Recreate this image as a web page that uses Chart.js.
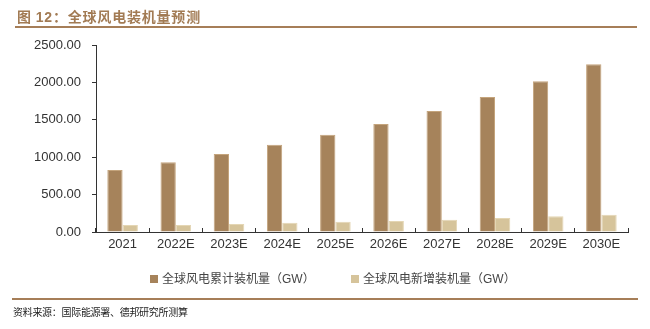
<!DOCTYPE html>
<html>
<head>
<meta charset="utf-8">
<script src="https://cdn.jsdelivr.net/npm/chart.js@4"></script>
<style>
  html, body { margin: 0; padding: 0; background: #fff; }
  #wrap { position: relative; width: 650px; height: 329px; overflow: hidden; }
  #c { position: absolute; left: 0; top: 0; }
  .title { position: absolute; left: 17px; top: 6px; font-family: "Noto Sans CJK SC", sans-serif; font-weight: bold; font-size: 14px; color: #a27b54; letter-spacing: 0.8px; white-space: nowrap; }
  .title .num { font-family: "Liberation Sans", Arial, sans-serif; }
  .rule { position: absolute; height: 2px; background: #a67e58; }
  .src { position: absolute; left: 13px; top: 304px; font-family: "Noto Sans CJK SC", sans-serif; font-size: 10px; color: #222; white-space: nowrap; letter-spacing: -0.3px; }
  .legend { position: absolute; top: 269px; font-family: "Noto Sans CJK SC", sans-serif; font-size: 12px; color: #444; white-space: nowrap; }
  .legend i { display: inline-block; width: 8px; height: 8px; margin-right: 4px; vertical-align: 0px; }
  .legend .gw { font-family: "Liberation Sans", Arial, sans-serif; }
</style>
</head>
<body>
<div id="wrap">
  <canvas id="c" width="650" height="329"></canvas>
  <div class="title">图 <span class="num">12</span>：全球风电装机量预测</div>
  <div class="rule" style="left:15px; top:26px; width:622px;"></div>
  <div class="rule" style="left:12px; top:298px; width:626px;"></div>
  <div class="src">资料来源：国际能源署、德邦研究所测算</div>
  <div id="leg"></div>
</div>
<script>
const categories = ["2021", "2022E", "2023E", "2024E", "2025E", "2026E", "2027E", "2028E", "2029E", "2030E"];
const cumulative = [830, 932, 1043, 1167, 1301, 1444, 1618, 1805, 2015, 2242];
const newAdded = [93, 93, 107, 124, 138, 147, 164, 187, 210, 231];
const seriesNames = ["全球风电累计装机量（GW）", "全球风电新增装机量（GW）"];
const seriesColors = ["#a6835b", "#d6c49b"];
const seriesBorders = ["#c4a47c", "#e4d6b4"];
const yTicks = [0, 500, 1000, 1500, 2000, 2500];

// legend (HTML), built from series arrays
const legPos = [150, 351];
const leg = document.getElementById('leg');
seriesNames.forEach((n, i) => {
  const d = document.createElement('div');
  d.className = 'legend';
  d.style.left = legPos[i] + 'px';
  const label = n.replace('GW', '<span class="gw">GW</span>');
  d.innerHTML = '<i style="background:' + seriesColors[i] + '"></i>' + label;
  leg.appendChild(d);
});

new Chart(document.getElementById('c'), {
  type: 'bar',
  data: {
    labels: categories,
    datasets: [
      { label: seriesNames[0], data: cumulative, backgroundColor: seriesColors[0], borderColor: seriesBorders[0], borderWidth: 1, barPercentage: 1, categoryPercentage: 0.575 },
      { label: seriesNames[1], data: newAdded, backgroundColor: seriesColors[1], borderColor: seriesBorders[1], borderWidth: 1, barPercentage: 1, categoryPercentage: 0.575 }
    ]
  },
  options: {
    responsive: false,
    animation: false,
    layout: { padding: { top: 45, right: 22, bottom: 0, left: 0 } },
    plugins: { legend: { display: false }, title: { display: false }, tooltip: { enabled: false } },
    scales: {
      x: {
        grid: { display: true, drawOnChartArea: false, drawTicks: true, tickLength: -4, color: '#333', offset: true },
        border: { display: true, color: '#333', width: 1 },
        ticks: { color: '#333', font: { family: 'Liberation Sans', size: 13 }, padding: 9, maxRotation: 0, autoSkip: false },
        afterFit: (s) => { s.height = 97; }
      },
      y: {
        min: 0, max: 2500,
        afterBuildTicks: (s) => { s.ticks = yTicks.map(v => ({ value: v })); },
        grid: { display: true, drawOnChartArea: false, drawTicks: true, tickLength: 4, color: '#333' },
        border: { display: true, color: '#333', width: 1 },
        ticks: { color: '#333', font: { family: 'Liberation Sans', size: 13 }, padding: 11, callback: (v) => Number(v).toFixed(2) },
        afterFit: (s) => { s.width = 96; }
      }
    }
  }
});
</script>
</body>
</html>
